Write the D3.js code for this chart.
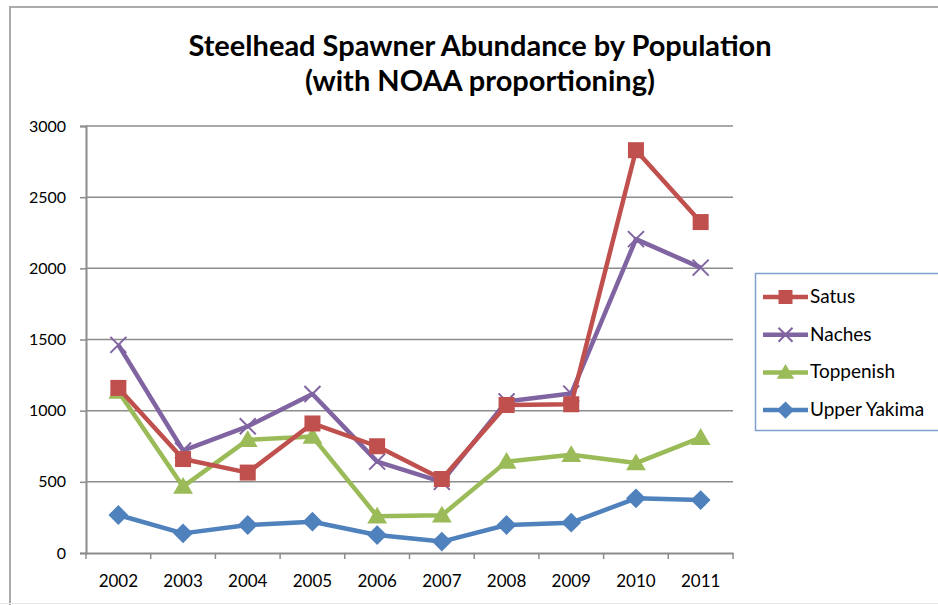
<!DOCTYPE html>
<html><head><meta charset="utf-8">
<script src="https://cdn.jsdelivr.net/npm/d3@7"></script>
<style>body{margin:0;background:#fff}svg{display:block}text{font-family:Lato,"Open Sans",sans-serif;fill:#000}</style>
</head><body>
<svg id="c" width="938" height="605"></svg>
<script>
const years = ["2002","2003","2004","2005","2006","2007","2008","2009","2010","2011"];
const satus = [1160,660,565,910,750,520,1040,1045,2830,2325];
const naches = [1462,720,890,1117,642,500,1065,1120,2205,2005];
const toppenish = [1135,466,795,818,258,265,642,690,632,810];
const upperYakima = [267,138,197,220,126,80,197,213,384,372];
const yTicks = [0,500,1000,1500,2000,2500,3000];
const seriesNames = ["Satus","Naches","Toppenish","Upper Yakima"];
const seriesColors = ["#C0504D","#8064A2","#9BBB59","#4F81BD"];
const seriesShapes = ["square","x","triangle","diamond"];
const titleLines = ["Steelhead Spawner Abundance by Population","(with NOAA proportioning)"];

const series = [satus,naches,toppenish,upperYakima].map((v,i)=>({name:seriesNames[i],color:seriesColors[i],shape:seriesShapes[i],values:v}));

const svg = d3.select("#c");
// outer border
svg.append("path").attr("d","M10,605 L10,7 L938,7").attr("fill","none").attr("stroke","#ababab").attr("stroke-width",2);
svg.append("line").attr("x1",0).attr("x2",938).attr("y1",603.5).attr("y2",603.5).attr("stroke","#e6e6e6");

const m = {left:86,right:733,top:126,bottom:553};
const x = d3.scaleBand().domain(years).range([m.left,m.right]);
const y = d3.scaleLinear().domain([0,3000]).range([m.bottom,m.top]);

// gridlines
svg.append("g").selectAll("line").data(yTicks.filter(d=>d>0)).join("line")
  .attr("x1",m.left).attr("x2",m.right).attr("y1",d=>y(d)).attr("y2",d=>y(d))
  .attr("stroke","#8c8c8c").attr("stroke-width",1.5);

// y axis
const ya = svg.append("g").attr("transform",`translate(${m.left},0)`)
  .call(d3.axisLeft(y).tickValues(yTicks).tickSize(6).tickPadding(14).tickFormat(d3.format("d")));
ya.select(".domain").attr("stroke","#8c8c8c").attr("stroke-width",2);
ya.selectAll(".tick line").attr("stroke","#8c8c8c").attr("stroke-width",1.5);
ya.selectAll("text").attr("font-size",16).attr("font-family","Lato").attr("fill","#000");

// x axis
const xa = svg.append("g").attr("transform",`translate(0,${m.bottom})`)
  .call(d3.axisBottom(x).tickSize(0).tickPadding(22));
xa.select(".domain").attr("stroke","#8c8c8c").attr("stroke-width",2);
xa.selectAll("text").attr("font-size",17).attr("font-family","Lato").attr("fill","#000");
const bounds = years.map(d=>x(d)).concat([m.right]);
svg.append("g").selectAll("line").data(bounds).join("line")
  .attr("x1",d=>d).attr("x2",d=>d).attr("y1",m.bottom).attr("y2",m.bottom+6)
  .attr("stroke","#8c8c8c").attr("stroke-width",1.5);

function marker(g,shape,color,size){
  if(shape==="square") g.append("rect").attr("x",-size/2).attr("y",-size/2).attr("width",size).attr("height",size).attr("fill",color);
  else if(shape==="diamond") g.append("path").attr("d",`M0,${-size*0.62}L${size*0.62},0L0,${size*0.62}L${-size*0.62},0Z`).attr("fill",color);
  else if(shape==="triangle") g.append("path").attr("d",`M0,${-size*0.6}L${size*0.62},${size*0.45}L${-size*0.62},${size*0.45}Z`).attr("fill",color);
  else if(shape==="x"){const s=size*0.5;g.append("path").attr("d",`M${-s},${-s}L${s},${s}M${-s},${s}L${s},${-s}`).attr("stroke",color).attr("stroke-width",2);}
}

const line = d3.line().x((d,i)=>x(years[i])+x.bandwidth()/2).y(d=>y(d));
const order = [3,2,1,0];
order.forEach(k=>{
  const s = series[k];
  const g = svg.append("g");
  g.append("path").attr("d",line(s.values)).attr("fill","none").attr("stroke",s.color).attr("stroke-width",4.5).attr("stroke-linejoin","round");
  s.values.forEach((v,i)=>{
    marker(g.append("g").attr("transform",`translate(${x(years[i])+x.bandwidth()/2},${y(v)})`),s.shape,s.color,16);
  });
});

// title
svg.append("g").selectAll("text").data(titleLines).join("text")
  .attr("x",480).attr("y",(d,i)=>56+i*35).attr("text-anchor","middle")
  .attr("font-size",29).attr("font-weight","bold").text(d=>d);

// legend
const lg = svg.append("g");
lg.append("rect").attr("x",755.5).attr("y",273.5).attr("width",190).attr("height",157).attr("fill","#fff").attr("stroke","#7fa1cf").attr("stroke-width",1.5);
series.forEach((s,i)=>{
  const yy = 297 + i*37.7;
  const g = lg.append("g");
  g.append("line").attr("x1",763).attr("x2",808).attr("y1",yy).attr("y2",yy).attr("stroke",s.color).attr("stroke-width",4.5);
  marker(g.append("g").attr("transform",`translate(785.5,${yy})`),s.shape,s.color,14);
  g.append("text").attr("x",810).attr("y",yy+6).attr("font-size",19).text(s.name);
});
</script>
</body></html>
